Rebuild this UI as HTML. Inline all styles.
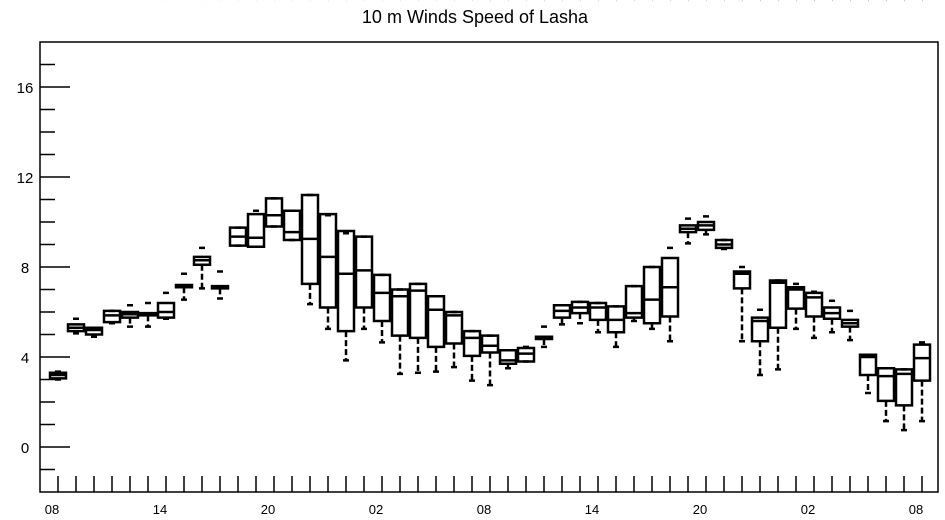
<!DOCTYPE html>
<html><head><meta charset="utf-8"><style>
body{margin:0;background:#fff;}
svg{display:block;font-family:"Liberation Sans",sans-serif;}
</style></head><body>
<svg id="chart" width="945" height="520">
<text x="475" y="23" text-anchor="middle" font-size="18">10 m Winds Speed of Lasha</text>
<rect x="40" y="42" width="898" height="450" fill="none" stroke="#000" stroke-width="1.5"/>
<g id="axes"></g>
<g id="boxes"></g>
</svg>
<script>
const hours=[8,9,10,11,12,13,14,15,16,17,18,19,20,21,22,23,0,1,2,3,4,5,6,7,8,9,10,11,12,13,14,15,16,17,18,19,20,21,22,23,0,1,2,3,4,5,6,7,8];
const wlo=[3.0,5.05,4.9,5.5,5.35,5.35,5.7,6.55,7.05,6.6,8.95,8.9,9.8,9.2,6.35,5.25,3.85,5.25,4.65,3.25,3.3,3.35,3.55,2.95,2.75,3.5,3.8,4.45,5.45,5.5,5.1,4.45,5.6,5.25,4.7,9.05,9.45,8.8,4.7,3.2,3.45,5.25,4.85,5.1,4.75,2.4,1.15,0.75,1.15];
const q1=[3.05,5.15,5.0,5.55,5.75,5.85,5.75,7.1,8.1,7.05,8.95,8.9,9.8,9.2,7.25,6.2,5.15,6.2,5.6,4.95,4.85,4.45,4.6,4.05,4.2,3.7,3.8,4.8,5.75,5.95,5.65,5.1,5.75,5.5,5.8,9.55,9.65,8.85,7.05,4.7,5.3,6.15,5.8,5.7,5.35,3.2,2.05,1.85,2.95];
const med=[3.2,5.3,5.2,5.85,5.9,5.9,6.0,7.15,8.3,7.1,9.35,9.3,10.3,9.55,9.25,8.45,7.7,7.85,6.85,6.7,6.95,6.1,5.85,4.85,4.5,3.85,4.15,4.85,6.05,6.2,6.2,5.65,5.95,6.55,7.1,9.7,9.85,9.0,7.7,5.6,7.3,7.0,6.65,5.95,5.5,4.0,3.15,3.25,3.95];
const q3=[3.3,5.45,5.3,6.05,6.0,5.95,6.4,7.2,8.45,7.15,9.75,10.35,11.05,10.5,11.2,10.35,9.6,9.35,7.65,7.0,7.25,6.7,6.0,5.15,4.95,4.3,4.4,4.9,6.3,6.45,6.4,6.25,7.15,8.0,8.4,9.85,10.0,9.2,7.8,5.75,7.4,7.1,6.85,6.2,5.65,4.1,3.5,3.45,4.55];
const whi=[3.35,5.7,5.3,6.05,6.3,6.4,6.85,7.7,8.85,7.8,9.75,10.5,11.05,10.5,11.2,10.3,9.5,9.35,7.65,7.0,7.25,6.7,6.0,5.15,4.95,4.3,4.45,5.35,6.3,6.45,6.4,6.25,7.15,8.0,8.85,10.15,10.25,9.2,8.0,6.1,7.4,7.25,6.9,6.5,6.05,4.1,3.5,3.45,4.65];
const yTicks=[0,4,8,12,16];
const NS="http://www.w3.org/2000/svg";
const X0=58,DX=18,Y0=447,PY=22.5;
const xs=i=>X0+DX*i, ys=v=>Y0-v*PY;
function mk(t,a,p){const e=document.createElementNS(NS,t);for(const k in a)e.setAttribute(k,a[k]);p.appendChild(e);return e;}
const ax=document.getElementById('axes'),bx=document.getElementById('boxes');
for(let v=-1;v<=17;v++){
  const major=yTicks.includes(v);
  const l=mk('line',{x1:40,x2:major?70:55,y1:ys(v),y2:ys(v),stroke:'#000','stroke-width':1.5},ax);
  
  
}
yTicks.forEach(v=>{
  const t=mk('text',{x:25,y:ys(v)+6,'text-anchor':'middle','font-size':15},ax);t.textContent=v;
  
  
});
hours.forEach((h,i)=>{
  const l=mk('line',{x1:xs(i),x2:xs(i),y1:476,y2:492,stroke:'#000','stroke-width':1.5},ax);
  
  
  if(h%6===2){
    const t=mk('text',{x:xs(i)-6,y:514,'text-anchor':'middle','font-size':13},ax);t.textContent=String(h).padStart(2,'0');
    
    
  }
});
hours.forEach((h,i)=>{
  const g=mk('g',{},bx);
  
  
  const x=xs(i),w=16;
  const s={stroke:'#000','stroke-width':2.5,fill:'none'};
  mk('line',Object.assign({x1:x,x2:x,y1:ys(q3),y2:ys(whi),'stroke-dasharray':'6,3'},s),g);
  mk('line',Object.assign({x1:x,x2:x,y1:ys(q1[i]),y2:ys(wlo[i]),'stroke-dasharray':'6,3'},s),g);
  mk('line',Object.assign({x1:x-3,x2:x+3,y1:ys(whi[i]),y2:ys(whi[i])},s),g);
  mk('line',Object.assign({x1:x-3,x2:x+3,y1:ys(wlo[i]),y2:ys(wlo[i])},s),g);
  mk('rect',Object.assign({x:x-w/2,y:ys(q3[i]),width:w,height:Math.max(1,ys(q1[i])-ys(q3[i]))},s),g);
  mk('line',Object.assign({x1:x-w/2,x2:x+w/2,y1:ys(med[i]),y2:ys(med[i])},s),g);
});
</script>
</body></html>
